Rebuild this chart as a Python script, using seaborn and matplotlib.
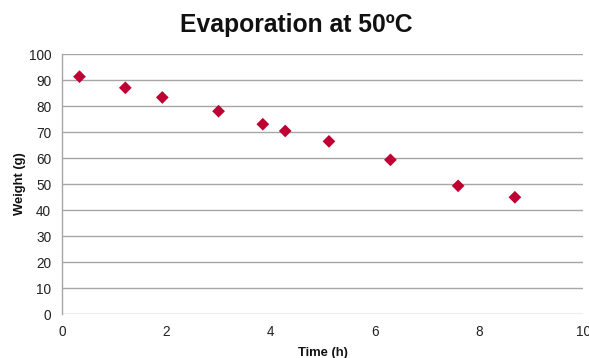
import matplotlib
matplotlib.use("Agg")
import matplotlib.pyplot as plt
import seaborn as sns
import pandas as pd

# Mass of the sample over time while held at 50 °C
time_h = [0.33, 1.21, 1.92, 3.00, 3.85, 4.28, 5.12, 6.30, 7.60, 8.69]
weight_g = [91.3, 87.0, 83.3, 78.0, 73.0, 70.4, 66.4, 59.3, 49.3, 44.9]

x_ticks = [0, 2, 4, 6, 8, 10]
y_ticks = list(range(0, 101, 10))

df = pd.DataFrame({"Time (h)": time_h, "Weight (g)": weight_g})

sns.set_theme(style="white")
plt.rcParams["font.family"] = ["Liberation Sans", "DejaVu Sans"]

fig = plt.figure(figsize=(5.89, 3.58), dpi=100)
ax = fig.add_axes([0.1058, 0.1229, 0.8842, 0.7262])

sns.scatterplot(data=df, x="Time (h)", y="Weight (g)", ax=ax,
                marker="D", s=42, color="#BE0032", edgecolor="none", zorder=3)

ax.set_xlim(0, 10)
ax.set_ylim(0, 100)
ax.set_xticks(x_ticks)
ax.set_yticks(y_ticks)
ax.yaxis.grid(True, color="#A6A6A6", linewidth=1.0)
ax.xaxis.grid(False)
ax.set_axisbelow(True)

for side in ("top", "right", "bottom"):
    ax.spines[side].set_visible(False)
ax.spines["left"].set_color("#A6A6A6")
ax.spines["left"].set_linewidth(1.0)

ax.tick_params(axis="both", length=0, labelsize=9.8, colors="#222222")
ax.tick_params(axis="y", pad=8)
ax.tick_params(axis="x", pad=8)

ax.set_xlabel("Time (h)", fontsize=9.4, fontweight="bold", color="#111111", labelpad=6)
ax.set_ylabel("Weight (g)", fontsize=9.4, fontweight="bold", color="#111111", labelpad=2)

fig.suptitle("Evaporation at 50ºC", x=0.503, y=0.965, fontsize=17.8,
             fontweight="bold", color="#111111")

fig.savefig("out.png", dpi=100)
